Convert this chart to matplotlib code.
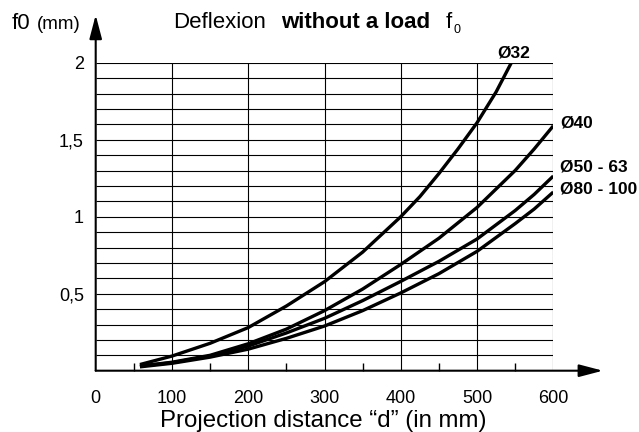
import matplotlib
matplotlib.use('Agg')
import matplotlib.pyplot as plt

plt.rcParams['font.family'] = ['Liberation Sans', 'DejaVu Sans']

# data (d in mm, f0 in mm)
d_32 = [58, 100, 150, 200, 250, 300, 350, 400, 425, 450, 475, 500, 525, 545]
f_32 = [0.04, 0.095, 0.178, 0.28, 0.42, 0.578, 0.77, 1.0, 1.13, 1.28, 1.44, 1.61, 1.81, 2.0]

d_std = [58, 100, 150, 200, 250, 300, 350, 400, 450, 500, 550, 575, 600]
f_40 = [0.03, 0.055, 0.1, 0.175, 0.27, 0.39, 0.53, 0.69, 0.86, 1.06, 1.30, 1.44, 1.59]
f_50 = [0.03, 0.052, 0.095, 0.16, 0.245, 0.34, 0.455, 0.58, 0.71, 0.855, 1.04, 1.145, 1.264]
f_80 = [0.025, 0.048, 0.088, 0.14, 0.21, 0.29, 0.39, 0.505, 0.63, 0.775, 0.955, 1.05, 1.16]

curve_labels = ['Ø32', 'Ø40', 'Ø50 - 63', 'Ø80 - 100']
label_pos = [(526, 2.06), (609, 1.61), (609, 1.325), (609, 1.18)]

xticks = [0, 100, 200, 300, 400, 500, 600]
xminor = [50, 150, 250, 350, 450, 550]
yticks = [0.5, 1, 1.5, 2]
ytick_labels = ['0,5', '1', '1,5', '2']
hgrid = [i / 10 for i in range(1, 21)]
vgrid = [100, 200, 300, 400, 500, 600]

W, H = 639, 432
fig = plt.figure(figsize=(W / 100, H / 100), dpi=100)
ax = fig.add_axes([95.7 / W, 1 - 370.7 / H, (553.3 - 95.7) / W, (370.7 - 62.7) / H])
ax.set_xlim(0, 600)
ax.set_ylim(0, 2)
for s in ax.spines.values():
    s.set_visible(False)

# grid
ax.hlines(hgrid, 0, 600, colors='k', lw=0.8, zorder=1)
ax.vlines(vgrid, 0, 2, colors='k', lw=0.8, zorder=1)

# curves
for d, f in [(d_32, f_32), (d_std, f_40), (d_std, f_50), (d_std, f_80)]:
    ax.plot(d, f, color='k', lw=2.4, solid_capstyle='butt', solid_joinstyle='round', zorder=3)
for lab, (x, y) in zip(curve_labels, label_pos):
    ax.text(x, y, lab, fontsize=12.5, fontweight='bold', ha='left', va='center', clip_on=False)

# axes with arrows
arr = dict(arrowstyle='-|>,head_length=1.45,head_width=0.38', color='k', lw=1.5,
           shrinkA=0, shrinkB=0, mutation_scale=10)
ax.annotate('', xy=(0, 2.31), xytext=(0, 0), arrowprops=arr, annotation_clip=False)
ax.annotate('', xy=(665, 0), xytext=(0, 0), arrowprops=arr, annotation_clip=False)

ax.set_xticks(xticks)
ax.set_xticks(xminor, minor=True)
ax.set_yticks(yticks)
ax.set_yticklabels(ytick_labels)
ax.tick_params(axis='x', which='major', length=0, pad=14, labelsize=13)
ax.tick_params(axis='x', which='minor', direction='in', length=6, width=1)
ax.tick_params(axis='y', length=0, pad=8.5, labelsize=13)

def px(x, y):
    return x / W, 1 - y / H

fig.text(*px(323, 421), 'Projection distance \u201cd\u201d (in mm)', fontsize=17.3,
         ha='center', va='center')
fig.text(*px(21, 29), 'f0', fontsize=16, ha='center', va='baseline')
fig.text(*px(59, 29), '(mm)', fontsize=13.5, ha='center', va='baseline')

fig.text(*px(173, 28.5), 'Deflexion', fontsize=16, ha='left', va='baseline')
fig.text(*px(281, 28.5), 'without a load', fontsize=16, fontweight='bold', ha='left', va='baseline')
fig.text(*px(446, 28.5), 'f', fontsize=16, ha='left', va='baseline')
fig.text(*px(453, 33), '0', fontsize=9, ha='left', va='baseline')

fig.savefig('out.png', dpi=100)
